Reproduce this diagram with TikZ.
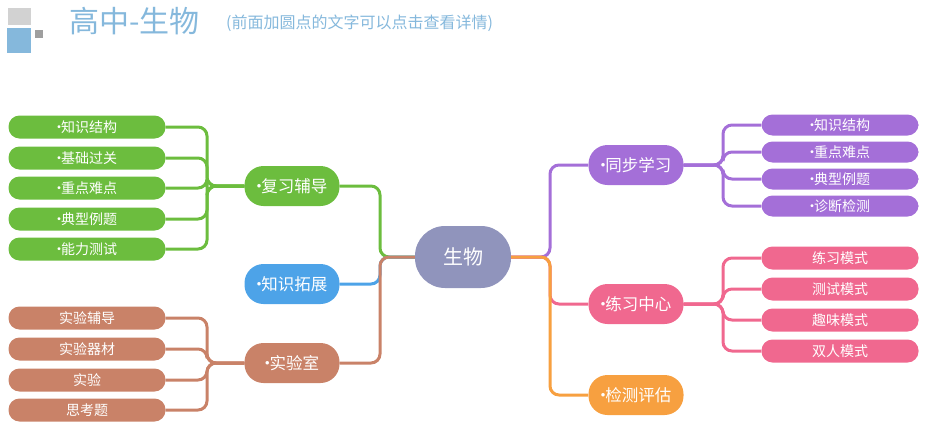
\documentclass[tikz,border=0pt]{standalone}
\usepackage{fontspec}
\setmainfont{Noto Sans CJK SC}
\newcommand{\pdot}{\makebox[0.3em]{·}}
\begin{document}
\begin{tikzpicture}[x=1pt,y=-1pt,
  box/.style={rounded corners=#1, text=white, inner sep=0pt, align=center},
  leaf/.style={box=11pt, minimum width=157pt, minimum height=23pt, font=\fontsize{14}{16}\selectfont},
  mid/.style={box=19pt, minimum width=95pt, minimum height=40pt, font=\fontsize{16.5}{18}\selectfont},
  ln/.style={line width=3pt, rounded corners=9pt}]
\definecolor{cg}{HTML}{6CBD3E}\definecolor{cb}{HTML}{4DA3E8}\definecolor{cbr}{HTML}{C98268}
\definecolor{cp}{HTML}{A46FD8}\definecolor{cpk}{HTML}{F0688F}\definecolor{co}{HTML}{F7A040}
\definecolor{cc}{HTML}{9094BC}\definecolor{tt}{HTML}{85B8DC}
\useasboundingbox (0,0) rectangle (941,434);
% title
\fill[gray!35] (8,8) rectangle (31,25);
\fill[tt] (7,28) rectangle (31,53);
\fill[gray!75] (35,30) rectangle (43,38);
\node[anchor=west, text=tt, font=\fontsize{30}{32}\selectfont, inner sep=0] (t) at (69,21) {高中-生物};
\node[anchor=west, text=tt, font=\fontsize{16}{18}\selectfont, inner sep=0] (st) at (226,23) {(前面加圆点的文字可以点击查看详情)};
% center
\node[box=30pt, fill=cc, minimum width=96pt, minimum height=62pt, font=\fontsize{20}{22}\selectfont] (c) at (463,257) {生物};
% mids
\node[mid, fill=cg] (m1) at (292,186) {\pdot 复习辅导};
\node[mid, fill=cb] (m2) at (292,284) {\pdot 知识拓展};
\node[mid, fill=cbr] (m3) at (292,363) {\pdot 实验室};
\node[mid, fill=cp] (m4) at (636,165) {\pdot 同步学习};
\node[mid, fill=cpk] (m5) at (636,304) {\pdot 练习中心};
\node[mid, fill=co] (m6) at (636,395) {\pdot 检测评估};
% center links
\draw[ln, cg] (c.west) -- (380,257) |- (m1.east);
\draw[ln, cb] (c.west) -- (380,257) |- (m2.east);
\draw[ln, cbr] (c.west) -- (380,257) |- (m3.east);
\draw[ln, cp] (c.east) -- (550,257) |- (m4.west);
\draw[ln, cpk] (c.east) -- (550,257) |- (m5.west);
\draw[ln, co] (c.east) -- (550,257) |- (m6.west);
% green leaves
\foreach \n/\y/\t in {g1/127/知识结构, g2/158/基础过关, g3/188/重点难点, g4/219/典型例题, g5/249/能力测试}{
  \node[leaf, fill=cg] (\n) at (87,\y) {\pdot\t};
  \draw[ln, cg] (m1.west) -- (207,186) |- (\n.east);}
\foreach \n/\y/\t in {b1/318/实验辅导, b2/349/实验器材, b3/380/实验, b4/410/思考题}{
  \node[leaf, fill=cbr] (\n) at (87,\y) {\t};
  \draw[ln, cbr] (m3.west) -- (207,363) |- (\n.east);}
\foreach \n/\y/\t in {p1/125/知识结构, p2/152/重点难点, p3/179/典型例题, p4/206/诊断检测}{
  \node[leaf, fill=cp, minimum height=21pt] (\n) at (840,\y) {\pdot\t};
  \draw[ln, cp] (m4.east) -- (723,165) |- (\n.west);}
\foreach \n/\y/\t in {k1/258/练习模式, k2/289/测试模式, k3/320/趣味模式, k4/351/双人模式}{
  \node[leaf, fill=cpk] (\n) at (840,\y) {\t};
  \draw[ln, cpk] (m5.east) -- (723,304) |- (\n.west);}
\end{tikzpicture}
\end{document}
